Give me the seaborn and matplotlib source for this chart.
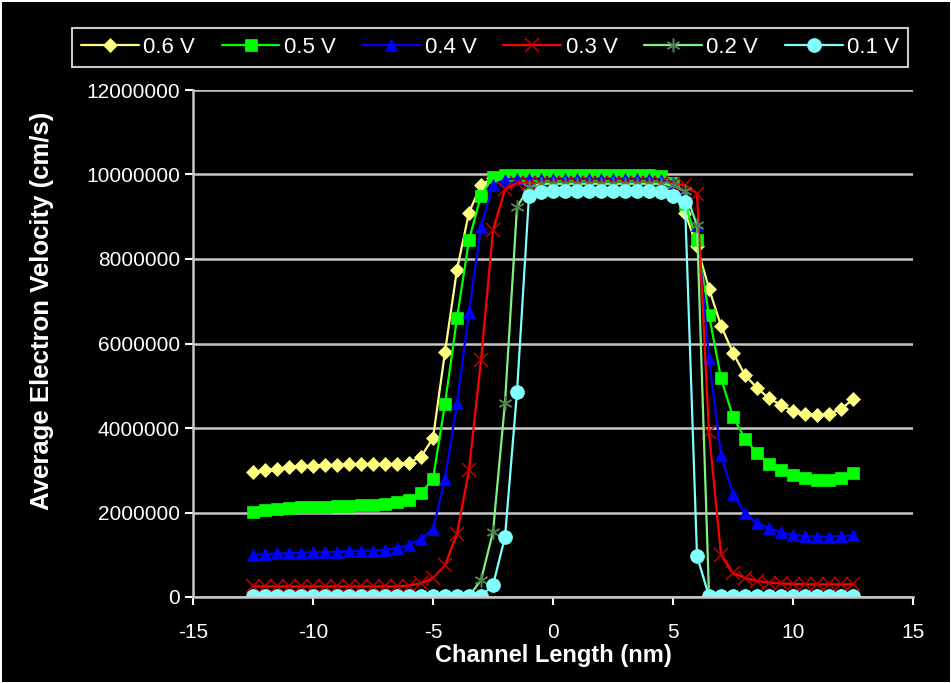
import matplotlib
matplotlib.use("Agg")
import matplotlib.pyplot as plt
from matplotlib.lines import Line2D
from matplotlib.ticker import FuncFormatter
import numpy as np
import seaborn as sns

# channel position (nm), one sample every 0.5 nm
channel_nm = np.arange(-12.5, 12.75, 0.5)

# average electron velocity, in units of 1e6 cm/s
v06 = [2.95, 3.00, 3.04, 3.07, 3.09, 3.11, 3.12, 3.13, 3.14, 3.14, 3.14, 3.14, 3.15,
       3.18, 3.32, 3.76, 5.80, 7.75, 9.10, 9.75, 9.92, 9.95,
       9.96, 9.96, 9.96, 9.96, 9.96, 9.96, 9.96, 9.96, 9.96, 9.96, 9.96, 9.96,
       9.93, 9.65, 9.10, 8.30, 7.30, 6.42, 5.78, 5.25, 4.95, 4.70, 4.55, 4.40,
       4.33, 4.30, 4.33, 4.45, 4.68]
v05 = [2.02, 2.05, 2.08, 2.10, 2.12, 2.13, 2.14, 2.15, 2.16, 2.17, 2.18, 2.20, 2.24,
       2.30, 2.45, 2.80, 4.57, 6.60, 8.45, 9.50, 9.95, 9.98,
       9.99, 9.99, 9.99, 9.99, 9.99, 9.99, 9.99, 9.99, 9.99, 9.99, 9.99, 9.99,
       9.97, 9.80, 9.30, 8.45, 6.67, 5.18, 4.26, 3.75, 3.40, 3.15, 3.00, 2.89,
       2.82, 2.77, 2.77, 2.82, 2.93]
v04 = [1.00, 1.02, 1.03, 1.04, 1.05, 1.06, 1.06, 1.07, 1.08, 1.09, 1.10, 1.12, 1.16,
       1.23, 1.38, 1.60, 2.80, 4.59, 6.75, 8.76, 9.75, 9.88,
       9.90, 9.90, 9.90, 9.90, 9.90, 9.90, 9.90, 9.90, 9.90, 9.90, 9.90, 9.90,
       9.88, 9.80, 9.50, 8.80, 5.65, 3.36, 2.44, 1.98, 1.75, 1.63, 1.53, 1.47,
       1.44, 1.43, 1.43, 1.44, 1.46]
v03 = [0.25, 0.25, 0.25, 0.25, 0.25, 0.25, 0.25, 0.25, 0.25, 0.25, 0.25, 0.25, 0.25,
       0.27, 0.32, 0.45, 0.75, 1.50, 3.00, 5.60, 8.68, 9.65,
       9.80, 9.80, 9.80, 9.80, 9.80, 9.80, 9.80, 9.80, 9.80, 9.80, 9.80, 9.80,
       9.80, 9.78, 9.75, 9.55, 3.90, 1.00, 0.57, 0.45, 0.38, 0.34, 0.32, 0.31,
       0.30, 0.30, 0.30, 0.30, 0.30]
v02 = [0.02, 0.02, 0.02, 0.02, 0.02, 0.02, 0.02, 0.02, 0.02, 0.02, 0.02, 0.02, 0.02,
       0.02, 0.02, 0.02, 0.02, 0.02, 0.02, 0.40, 1.54, 4.60,
       9.23, 9.70, 9.78, 9.78, 9.78, 9.78, 9.78, 9.78, 9.78, 9.78, 9.78, 9.78,
       9.78, 9.75, 9.60, 8.80, 0.05, 0.02, 0.02, 0.02, 0.02, 0.02, 0.02, 0.02,
       0.02, 0.02, 0.02, 0.02, 0.02]
v01 = [0.02, 0.02, 0.02, 0.02, 0.02, 0.02, 0.02, 0.02, 0.02, 0.02, 0.02, 0.02, 0.02,
       0.02, 0.02, 0.02, 0.02, 0.02, 0.02, 0.02, 0.28, 1.42,
       4.85, 9.50, 9.58, 9.60, 9.60, 9.60, 9.60, 9.60, 9.60, 9.60, 9.60, 9.60,
       9.58, 9.50, 9.35, 0.97, 0.02, 0.02, 0.02, 0.02, 0.02, 0.02, 0.02, 0.02,
       0.02, 0.02, 0.02, 0.02, 0.02]

labels = ["0.6 V", "0.5 V", "0.4 V", "0.3 V", "0.2 V", "0.1 V"]
series = [v06, v05, v04, v03, v02, v01]

# line colour, marker, marker size, marker face, marker edge, edge width
styles = [
    ("#FFFF80", "D", 7, "#FFFF80", "#FFFF80", 0.5),
    ("#00FF00", "s", 9, "#00FF00", "#00FF00", 0.5),
    ("#0000FF", "^", 9, "#0000FF", "#0000FF", 0.5),
    ("#FF0000", "x", 10, "#C00000", "#C00000", 1.1),
    ("#80F080", (6, 2, 0), 10, "#508050", "#508050", 1.1),
    ("#80FFFF", "o", 10, "#80FFFF", "#80FFFF", 0.5),
]

sns.set_theme(style="white")
plt.rcParams['font.family'] = ['Liberation Sans Narrow', 'Liberation Sans', 'DejaVu Sans']
plt.rcParams['axes.unicode_minus'] = False

fig = plt.figure(figsize=(9.51, 6.83), dpi=100, facecolor="black")
fig.patch.set_edgecolor("white")
fig.patch.set_linewidth(2)
ax = fig.add_axes([193 / 951, 1 - 597 / 683, 720 / 951, 507 / 683])
ax.set_facecolor("black")

for vals, (col, mk, ms, mfc, mec, mew) in zip(series, styles):
    sns.lineplot(x=channel_nm, y=np.array(vals) * 1e6, ax=ax, color=col, lw=1.6,
                 marker=mk, markersize=ms, markerfacecolor=mfc, markeredgecolor=mec,
                 markeredgewidth=mew)

ax.set_xlim(-15, 15)
ax.set_ylim(0, 12000000)
ax.set_xticks(range(-15, 16, 5))
ax.set_yticks(range(0, 12000001, 2000000))
ax.yaxis.set_major_formatter(FuncFormatter(lambda v, p: f"{int(v)}"))
ax.grid(axis="y", color="#C8C8C8", lw=1.8)
ax.grid(axis="x", visible=False)
for side in ["top", "right"]:
    ax.spines[side].set_visible(False)
for side in ["left", "bottom"]:
    ax.spines[side].set_color("#C8C8C8")
    ax.spines[side].set_linewidth(1.8)
ax.tick_params(colors="white", labelsize=15, length=6, width=1.5, direction="out",
               bottom=True, left=True)
ax.tick_params(axis="x", pad=13)

ax.set_xlabel("Channel Length (nm)", color="white", fontsize=17, fontweight="bold", labelpad=1)
ax.set_ylabel("Average Electron Velocity (cm/s)", color="white", fontsize=18.5,
              fontweight="bold")
ax.yaxis.set_label_coords(-0.193, 0.565)

handles = [Line2D([], [], color=col, lw=1.6, marker=mk, markersize=ms,
                  markerfacecolor=mfc, markeredgecolor=mec, markeredgewidth=mew)
           for col, mk, ms, mfc, mec, mew in styles]
leg = fig.legend(handles, labels, ncol=6, loc="lower left", mode="expand",
                 bbox_to_anchor=(72 / 951, 1 - 67 / 683, 836 / 951, 44 / 683),
                 frameon=True, facecolor="black", edgecolor="white", fancybox=False,
                 fontsize=16, labelcolor="white", handlelength=2.6, handletextpad=0.2,
                 borderaxespad=0)
leg.get_frame().set_linewidth(1.5)

fig.savefig("out.png", dpi=100, facecolor=fig.get_facecolor(), edgecolor=fig.patch.get_edgecolor())
